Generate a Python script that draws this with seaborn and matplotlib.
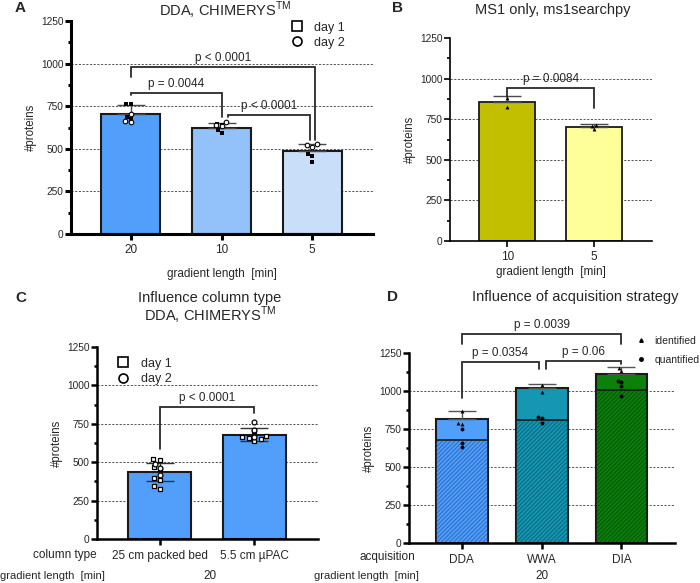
import matplotlib
matplotlib.use("Agg")
import matplotlib.pyplot as plt
from matplotlib.lines import Line2D
from matplotlib.ticker import MultipleLocator
import seaborn as sns

# ---- panel A: DDA, CHIMERYS, gradient length ----
A_LENGTHS = ["20", "10", "5"]
A_MEANS = [705, 625, 485]
A_SD = [50, 25, 45]
A_COLORS = ["#519ffb", "#93c1fa", "#c9dff9"]
A_DAY1_X = ["20", "20", "20", "20", "10", "10", "10", "10", "5", "5", "5"]
A_DAY1_Y = [760, 765, 685, 672, 595, 610, 640, 645, 470, 458, 420]
A_DAY2_X = ["20", "20", "20", "10", "10", "10", "5", "5", "5"]
A_DAY2_Y = [705, 665, 655, 632, 642, 656, 530, 522, 508]

# ---- panel B: MS1 only ----
B_LENGTHS = ["10", "5"]
B_MEANS = [855, 705]
B_SD = [40, 15]
B_COLORS = ["#c2bf00", "#ffff99"]
B_PTS_X = ["10", "10", "5", "5", "5"]
B_PTS_Y = [880, 825, 715, 710, 690]

# ---- panel C: column type ----
C_COLUMNS = ["25 cm packed bed", "5.5 cm µPAC"]
C_MEANS = [435, 680]
C_SD = [60, 40]
C_COLOR = "#519ffb"
C_DAY1_X = ["25 cm packed bed"] * 8 + ["5.5 cm µPAC"] * 6
C_DAY1_Y = [519, 512, 469, 456, 397, 384, 345, 328, 703, 672, 662, 655, 648, 640]
C_DAY2_X = ["25 cm packed bed"] * 3 + ["5.5 cm µPAC"] * 3
C_DAY2_Y = [490, 462, 417, 762, 712, 665]

# ---- panel D: acquisition strategy ----
D_MODES = ["DDA", "WWA", "DIA"]
D_IDENT = [815, 1020, 1115]
D_IDENT_SD = [55, 25, 45]
D_QUANT = [680, 810, 1005]
D_COLORS = ["#519ffb", "#1597b4", "#0b800b"]
D_HATCH_COLORS = ["#2f6fc8", "#0b6a80", "#055705"]
D_IDENT_X = ["DDA", "DDA", "DDA", "WWA", "WWA", "DIA", "DIA"]
D_IDENT_Y = [870, 787, 782, 1040, 995, 1150, 1132]
D_QUANT_X = ["DDA", "DDA", "DDA", "WWA", "WWA", "WWA", "DIA", "DIA", "DIA", "DIA"]
D_QUANT_Y = [750, 660, 630, 830, 822, 792, 1068, 1058, 1030, 970]

GRID_LEVELS = [250, 500, 750, 1000]

sns.set_style("ticks")
plt.rcParams["font.family"] = ["Liberation Sans", "DejaVu Sans"]
plt.rcParams["mathtext.fontset"] = "custom"
plt.rcParams["mathtext.rm"] = "Liberation Sans"
plt.rcParams["hatch.linewidth"] = 0.8

W, H = 700, 583
fig = plt.figure(figsize=(7, 5.83), dpi=100)


def px_axes(l, t, r, b):
    return fig.add_axes([l / W, 1 - b / H, (r - l) / W, (b - t) / H])


def ftext(x, y, s, **kw):
    fig.text(x / W, 1 - y / H, s, **kw)


def style_axis(ax, lw, n):
    sns.despine(ax=ax)
    for side in ("left", "bottom"):
        ax.spines[side].set_linewidth(lw)
        ax.spines[side].set_color("black")
    ax.set_ylim(0, 1250)
    ax.set_xlim(-0.66, n - 1 + 0.67)
    ax.yaxis.set_major_locator(MultipleLocator(250))
    ax.yaxis.set_minor_locator(MultipleLocator(125))
    ax.tick_params(axis="y", which="major", length=4, width=lw, labelsize=7.3, pad=1.5, color="black")
    ax.tick_params(axis="y", which="minor", length=2.5, width=lw, color="black")
    ax.tick_params(axis="x", length=4, width=lw, labelsize=8.5, pad=3, color="black")
    for y in GRID_LEVELS:
        ax.axhline(y, color="#555555", lw=0.7, ls=(0, (2.2, 1.6)), zorder=0)
    ax.set_ylabel("#proteins", fontsize=8.3, labelpad=3)


def bracket(ax, x1, x2, top, end1, end2, label, lw=1.3):
    ax.plot([x1, x1, x2, x2], [end1, top, top, end2], color="#2a2a2a", lw=lw,
            clip_on=False, solid_joinstyle="miter", zorder=6)
    ax.annotate(label, xy=((x1 + x2) / 2, top), xytext=(0, 2), textcoords="offset points",
                ha="center", va="bottom", fontsize=8.5, annotation_clip=False)


def errbars(ax, means, sd, both=False, color="#4a4a4a"):
    lower = sd if both else [0] * len(sd)
    ax.errorbar(x=list(range(len(means))), y=means, yerr=[lower, sd], fmt="none",
                ecolor=color, elinewidth=1.0, capsize=10, capthick=1.0, zorder=4)


day_handles = [
    Line2D([], [], marker="s", mfc="white", mec="black", mew=1.2, ls="", ms=6.5),
    Line2D([], [], marker="o", mfc="white", mec="black", mew=1.2, ls="", ms=6.5),
]

# ================= A =================
ax = px_axes(71, 21, 373, 234)
sns.barplot(x=A_LENGTHS, y=A_MEANS, hue=A_LENGTHS, palette=A_COLORS, legend=False,
            order=A_LENGTHS, width=0.65, saturation=1, edgecolor="#1a1a1a",
            linewidth=1.5, errorbar=None, ax=ax, zorder=2)
errbars(ax, A_MEANS, A_SD)
sns.swarmplot(x=A_DAY1_X, y=A_DAY1_Y, order=A_LENGTHS, marker="s", color="black",
              size=3.3, ax=ax, zorder=5)
sns.swarmplot(x=A_DAY2_X, y=A_DAY2_Y, order=A_LENGTHS, marker="o", color="white",
              edgecolor="black", linewidth=0.8, size=3.3, ax=ax, zorder=5)
style_axis(ax, 2.2, 3)
ax.set_xlabel("gradient length  [min]", fontsize=8.5, labelpad=9)
bracket(ax, 0, 2.03, 980, 920, 552, "p < 0.0001")
bracket(ax, 0, 1.0, 828, 815, 687, "p = 0.0044")
bracket(ax, 1.07, 1.97, 698, 687, 552, "p < 0.0001")
ax.legend(day_handles, ["day 1", "day 2"], loc="upper left", bbox_to_anchor=(0.69, 1.02),
          frameon=False, fontsize=9, handletextpad=0.4, labelspacing=0.25, borderaxespad=0)
ftext(225, 10, "DDA, CHIMERYS$^{\\mathrm{TM}}$", ha="center", va="center", fontsize=10.5)
ftext(15, 8, "A", ha="left", va="center", fontsize=11, fontweight="bold")

# ================= B =================
ax = px_axes(450, 38, 652, 241)
sns.barplot(x=B_LENGTHS, y=B_MEANS, hue=B_LENGTHS, palette=B_COLORS, legend=False,
            order=B_LENGTHS, width=0.65, saturation=1, edgecolor="#1a1a1a",
            linewidth=1.3, errorbar=None, ax=ax, zorder=2)
errbars(ax, B_MEANS, B_SD)
sns.swarmplot(x=B_PTS_X, y=B_PTS_Y, order=B_LENGTHS, marker="^", color="black",
              size=2.8, ax=ax, zorder=5)
style_axis(ax, 1.2, 2)
ax.set_xlabel("gradient length  [min]", fontsize=8.5, labelpad=2)
bracket(ax, 0, 1, 942, 887, 819, "p = 0.0084")
ftext(553, 10, "MS1 only, ms1searchpy", ha="center", va="center", fontsize=10.5)
ftext(392, 8, "B", ha="left", va="center", fontsize=11, fontweight="bold")

# ================= C =================
ax = px_axes(97, 347, 318, 539)
sns.barplot(x=C_COLUMNS, y=C_MEANS, order=C_COLUMNS, color=C_COLOR, width=0.67,
            saturation=1, edgecolor="#1a1a1a", linewidth=1.5, errorbar=None, ax=ax, zorder=2)
errbars(ax, C_MEANS, C_SD, both=True, color="#333333")
sns.swarmplot(x=C_DAY1_X, y=C_DAY1_Y, order=C_COLUMNS, marker="s", color="white",
              edgecolor="black", linewidth=0.9, size=3.5, ax=ax, zorder=5)
sns.swarmplot(x=C_DAY2_X, y=C_DAY2_Y, order=C_COLUMNS, marker="o", color="white",
              edgecolor="black", linewidth=0.9, size=3.5, ax=ax, zorder=5)
style_axis(ax, 1.8, 2)
ax.set_xlabel("")
ax.tick_params(axis="x", pad=4)
bracket(ax, 0, 1, 859, 586, 820, "p < 0.0001")
ax.legend(day_handles, ["day 1", "day 2"], loc="upper left", bbox_to_anchor=(0.04, 0.97),
          frameon=False, fontsize=9, handletextpad=0.4, labelspacing=0.25, borderaxespad=0)
ftext(210, 298, "Influence column type", ha="center", va="center", fontsize=10.5)
ftext(210, 315, "DDA, CHIMERYS$^{\\mathrm{TM}}$", ha="center", va="center", fontsize=10.5)
ftext(15, 298, "C", ha="left", va="center", fontsize=11, fontweight="bold")
ftext(65, 555, "column type", ha="center", va="center", fontsize=8.5)
ftext(0, 576, "gradient length  [min]", ha="left", va="center", fontsize=8)
ftext(210, 576, "20", ha="center", va="center", fontsize=8.5)

# ================= D =================
ax = px_axes(409, 353, 675, 543)
sns.barplot(x=D_MODES, y=D_IDENT, hue=D_MODES, palette=D_COLORS, legend=False,
            order=D_MODES, width=0.65, saturation=1, edgecolor="#1a1a1a",
            linewidth=1.5, errorbar=None, ax=ax, zorder=2)
sns.barplot(x=D_MODES, y=D_QUANT, hue=D_MODES, palette=D_COLORS, legend=False,
            order=D_MODES, width=0.65, saturation=1, linewidth=0,
            errorbar=None, ax=ax, zorder=2.1)
for patch, hc in zip(ax.patches[len(D_MODES):2 * len(D_MODES)], D_HATCH_COLORS):
    patch.set_hatch("////////")
    patch.set_edgecolor(hc)
    patch.set_linewidth(0)
sns.barplot(x=D_MODES, y=D_QUANT, order=D_MODES, color="#1a1a1a", fill=False,
            width=0.65, linewidth=1.2, errorbar=None, ax=ax, zorder=2.2)
errbars(ax, D_IDENT, D_IDENT_SD, color="#555555")
sns.swarmplot(x=D_IDENT_X, y=D_IDENT_Y, order=D_MODES, marker="^", color="black",
              size=2.8, ax=ax, zorder=5)
sns.swarmplot(x=D_QUANT_X, y=D_QUANT_Y, order=D_MODES, marker="o", color="black",
              size=2.8, ax=ax, zorder=5)
style_axis(ax, 1.8, 3)
ax.set_xlabel("")
ax.tick_params(axis="x", pad=4)
bracket(ax, 0, 2, 1376, 1310, 1310, "p = 0.0039")
bracket(ax, 0, 0.97, 1190, 957, 1144, "p = 0.0354")
bracket(ax, 1.06, 2, 1197, 1144, 1177, "p = 0.06")
leg_handles = [
    Line2D([], [], marker="^", color="black", ls="", ms=2.5),
    Line2D([], [], marker="o", color="black", ls="", ms=2.5),
]
ax.legend(leg_handles, ["identified", "quantified"], loc="upper left",
          bbox_to_anchor=(0.855, 1.09), frameon=False, fontsize=7.5, handlelength=0.8,
          handletextpad=0.9, labelspacing=0.85, borderaxespad=0, borderpad=0)
ftext(575, 297, "Influence of acquisition strategy", ha="center", va="center", fontsize=10.5)
ftext(387, 297, "D", ha="left", va="center", fontsize=11, fontweight="bold")
ftext(387, 557, "acquisition", ha="center", va="center", fontsize=8.5)
ftext(419, 576, "gradient length  [min]", ha="right", va="center", fontsize=8)
ftext(542, 576, "20", ha="center", va="center", fontsize=8.5)

fig.savefig("out.png", dpi=100)
